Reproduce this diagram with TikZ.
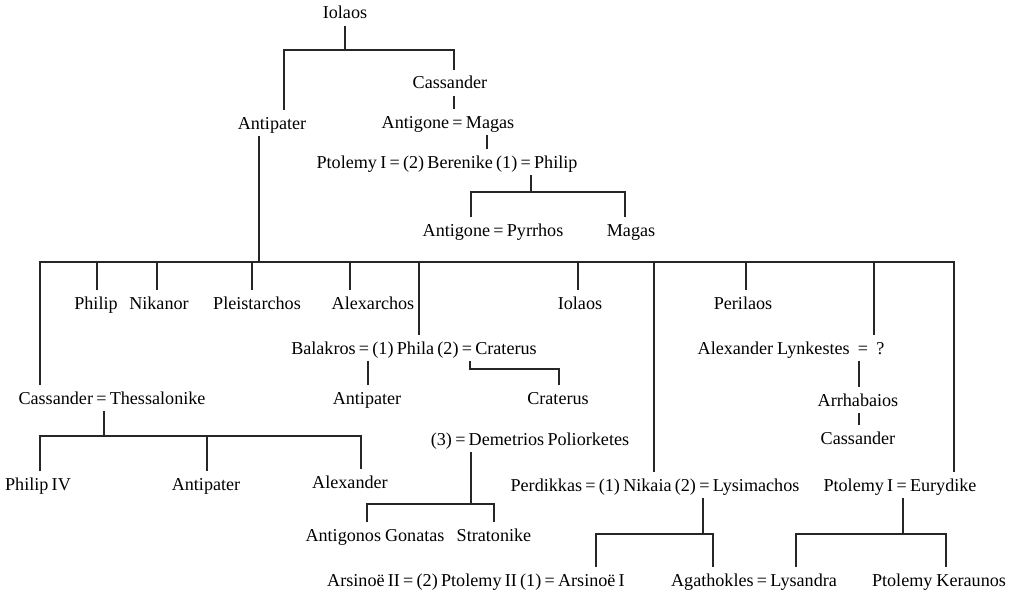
\documentclass[tikz,border=0pt]{standalone}
\usepackage{fontspec}
\setmainfont{Liberation Serif}
\newfontfamily\kinfont{Liberation Serif}
\newcommand\kinface{\kinfont\fontsize{13.6}{16}\selectfont\spaceskip .18em\relax}

\begin{document}
\begin{tikzpicture}[
    x=0.75pt, y=-0.75pt,
    pn/.style={
        font=\kinface,
        text height=12.9pt,
        text depth=3.9pt,
        inner xsep=1pt,
        inner ysep=1pt,
    },
    kin/.style={
        line width=.8pt,
        draw=black!85,
    },
]
    \useasboundingbox (0,0) rectangle (1014,592);
    % ~~~ Iolaos and the line of Cassander ~~~~~~~~~~~~
    \node[pn] (iolaos)  at (345,13)  {Iolaos};
    \node[pn] (antipA)  at (272,123) {Antipater};
    \node[pn] (cassA)   at (450,83)  {Cassander};
    \node[pn] (antigM)  at (448,122) {Antigone = Magas};
    \node[pn] (beren)   at (447,162) {Ptolemy I = (2) Berenike (1) = Philip};
    \node[pn] (antigP)  at (493,230) {Antigone = Pyrrhos};
    \node[pn] (magas)   at (631,230) {Magas};
    % ~~~ children of Antipater ~~~~~~~~~~~~
    \node[pn] (philip)  at (96,303)  {Philip};
    \node[pn] (nikanor) at (159,303) {Nikanor};
    \node[pn] (pleist)  at (257,303) {Pleistarchos};
    \node[pn] (alexar)  at (373,303) {Alexarchos};
    \node[pn] (iolaosB) at (580,303) {Iolaos};
    \node[pn] (peril)   at (743,303) {Perilaos};
    \node[pn] (phila)   at (414,348) {Balakros = (1) Phila (2) = Craterus};
    \node[pn] (lynk)    at (791,348) {Alexander\hspace{.22em}Lynkestes\hspace{.45em}=\hspace{.45em}?};
    \node[pn] (cassT)   at (112,398) {Cassander = Thessalonike};
    \node[pn] (antipB)  at (367,398) {Antipater};
    \node[pn] (crat)    at (558,398) {Craterus};
    \node[pn] (arrh)    at (858,400) {Arrhabaios};
    \node[pn] (cassB)   at (858,438) {Cassander};
    \node[pn] (demet)   at (530,439) {(3) = Demetrios Poliorketes};
    \node[pn] (nikaia)  at (655,485) {Perdikkas = (1) Nikaia (2) = Lysimachos};
    \node[pn] (eury)    at (900,485) {Ptolemy I = Eurydike};
    % ~~~ grandchildren ~~~~~~~~~~~~
    \node[pn] (philipIV) at (38,484)  {Philip IV};
    \node[pn] (antipC)   at (206,484) {Antipater};
    \node[pn] (alexand)  at (350,482) {Alexander};
    \node[pn] (gonatas)  at (375,535) {Antigonos\hspace{.22em}Gonatas};
    \node[pn] (stratk)   at (494,535) {Stratonike};
    \node[pn] (arsin)    at (476,580) {Arsinoë II = (2) Ptolemy II (1) = Arsinoë I};
    \node[pn] (agath)    at (754,580) {Agathokles = Lysandra};
    \node[pn] (keraun)   at (939,580) {Ptolemy\hspace{.22em}Keraunos};
    % ~~~ junctions of the bars ~~~~~~~~~
    \coordinate (jIol)  at (345,50);
    \coordinate (jBer)  at (531,192);
    \coordinate (jAnt)  at (259,262);
    \coordinate (jCas)  at (104,436);
    \coordinate (jPhi)  at (470,369);
    \coordinate (jDem)  at (471,504);
    \coordinate (jNik)  at (703,534);
    \coordinate (jEur)  at (903,534);
    % ~~~ connectors ~~~~~~~~~
    \draw[kin] (iolaos) -- (jIol);
    \draw[kin] (284,0 |- antipA.north) |- (jIol) -| (454,0 |- cassA.north);
    \draw[kin] (454,0 |- cassA.south) -- (454,0 |- antigM.north);
    \draw[kin] (487,0 |- antigM.south) -- (487,0 |- beren.north);
    \draw[kin] (jBer |- beren.south) -- (jBer);
    \draw[kin] (471,0 |- antigP.north) |- (jBer) -| (625,0 |- magas.north);
    \draw[kin] (jAnt |- antipA.south) -- (jAnt);
    \draw[kin] (40,0 |- cassT.north) |- (jAnt) -| (954,0 |- eury.north);
    \foreach \x/\n in {97/philip,157/nikanor,252/pleist,350/alexar,419/phila,
                       578/iolaosB,654/nikaia,746/peril,874/lynk}
        \draw[kin] (\x,0 |- jAnt) -- (\x,0 |- \n.north);
    \draw[kin] (jCas |- cassT.south) -- (jCas);
    \draw[kin] (40,0 |- philipIV.north) |- (jCas) -| (361,0 |- alexand.north);
    \draw[kin] (207,0 |- jCas) -- (207,0 |- antipC.north);
    \draw[kin] (368,0 |- phila.south) -- (368,0 |- antipB.north);
    \draw[kin] (jPhi |- phila.south) -- (jPhi) -| (559,0 |- crat.north);
    \draw[kin] (jDem |- demet.south) -- (jDem);
    \draw[kin] (367,0 |- gonatas.north) |- (jDem) -| (494,0 |- stratk.north);
    \draw[kin] (859,0 |- lynk.south) -- (859,0 |- arrh.north);
    \draw[kin] (859,0 |- arrh.south) -- (859,0 |- cassB.north);
    \draw[kin] (jNik |- nikaia.south) -- (jNik);
    \draw[kin] (596,0 |- arsin.north) |- (jNik) -| (713,0 |- agath.north);
    \draw[kin] (jEur |- eury.south) -- (jEur);
    \draw[kin] (796,0 |- agath.north) |- (jEur) -| (946,0 |- keraun.north);
\end{tikzpicture}
\end{document}
